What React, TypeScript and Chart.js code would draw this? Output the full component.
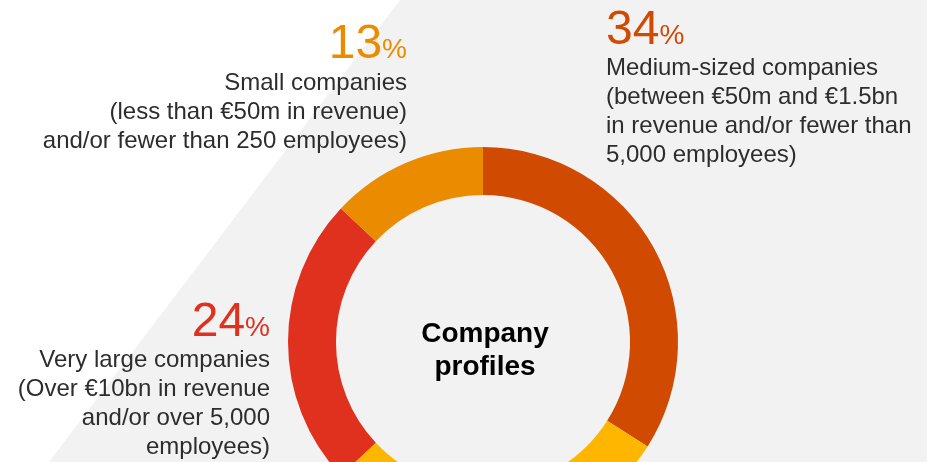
import React, { useEffect, useRef } from 'react';
import { Chart, registerables } from 'chart.js';

Chart.register(...registerables);

// ---- data ----
const categories = ['Medium-sized companies', 'Large companies', 'Very large companies', 'Small companies'];
const shares = [34, 29, 24, 13];
const colors = ['#D04A02', '#FFB600', '#E0301E', '#EB8C00'];

const mediumLines = ['Medium-sized companies', '(between €50m and €1.5bn', 'in revenue and/or fewer than', '5,000 employees)'];
const smallLines = ['Small companies', '(less than €50m in revenue)', 'and/or fewer than 250 employees)'];
const veryLargeLines = ['Very large companies', '(Over €10bn in revenue', 'and/or over 5,000', 'employees)'];
const centerLines = ['Company', 'profiles'];

const FONT = '"Liberation Sans", Arial, Helvetica, sans-serif';
const TEXT = '#2D2D2D';

const decorPlugin = {
  id: 'decor',
  beforeDraw(chart: any) {
    const { ctx } = chart;
    ctx.save();
    ctx.fillStyle = '#FFFFFF';
    ctx.fillRect(0, 0, chart.width, chart.height);
    ctx.fillStyle = '#F2F2F2';
    ctx.beginPath();
    ctx.moveTo(400, 0);
    ctx.lineTo(chart.width, 0);
    ctx.lineTo(chart.width, chart.height);
    ctx.lineTo(400 - 0.76 * chart.height, chart.height);
    ctx.closePath();
    ctx.fill();
    ctx.restore();
  },
  afterDraw(chart: any) {
    const { ctx } = chart;
    ctx.save();
    ctx.textBaseline = 'alphabetic';

    const bigNum = (val: number, color: string, x: number, y: number, align: 'left' | 'right') => {
      ctx.fillStyle = color;
      ctx.font = `48px ${FONT}`;
      const num = String(val);
      const wn = ctx.measureText(num).width;
      ctx.font = `28px ${FONT}`;
      const wp = ctx.measureText('%').width;
      const left = align === 'left' ? x : x - wn - wp;
      ctx.textAlign = 'left';
      ctx.font = `48px ${FONT}`;
      ctx.fillText(num, left, y);
      ctx.font = `28px ${FONT}`;
      ctx.fillText('%', left + wn, y);
    };
    const lines = (arr: string[], x: number, y0: number, align: CanvasTextAlign) => {
      ctx.fillStyle = TEXT;
      ctx.font = `24px ${FONT}`;
      ctx.textAlign = align;
      arr.forEach((t, i) => ctx.fillText(t, x, y0 + i * 29));
    };

    // Small companies (index 3)
    bigNum(shares[3], colors[3], 407, 58, 'right');
    lines(smallLines, 407, 90, 'right');
    // Medium-sized (index 0)
    bigNum(shares[0], colors[0], 606, 44, 'left');
    lines(mediumLines, 606, 75, 'left');
    // Very large (index 2)
    bigNum(shares[2], colors[2], 270, 336, 'right');
    lines(veryLargeLines, 270, 367, 'right');

    // center
    ctx.fillStyle = '#000000';
    ctx.font = `bold 28px ${FONT}`;
    ctx.textAlign = 'center';
    ctx.fillText(centerLines[0], 485, 342);
    ctx.fillText(centerLines[1], 485, 375);
    ctx.restore();
  },
};

export default function App() {
  const ref = useRef<HTMLCanvasElement | null>(null);
  useEffect(() => {
    if (!ref.current) return;
    const chart = new Chart(ref.current, {
      type: 'doughnut',
      data: {
        labels: categories,
        datasets: [
          {
            data: shares,
            backgroundColor: colors,
            borderWidth: 0,
            clip: false as any,
          },
        ],
      },
      options: {
        responsive: false,
        animation: false,
        cutout: '75.4%',
        layout: { padding: { left: 288, right: 249, top: 147, bottom: 23 } },
        plugins: { legend: { display: false }, tooltip: { enabled: false } },
        events: [],
      },
      plugins: [decorPlugin],
    });
    return () => chart.destroy();
  }, []);
  return (
    <div style={{ position: 'absolute', left: 0, top: 0, width: 927, height: 462, overflow: 'hidden' }}>
      <canvas ref={ref} width={927} height={560} style={{ display: 'block' }} />
    </div>
  );
}
